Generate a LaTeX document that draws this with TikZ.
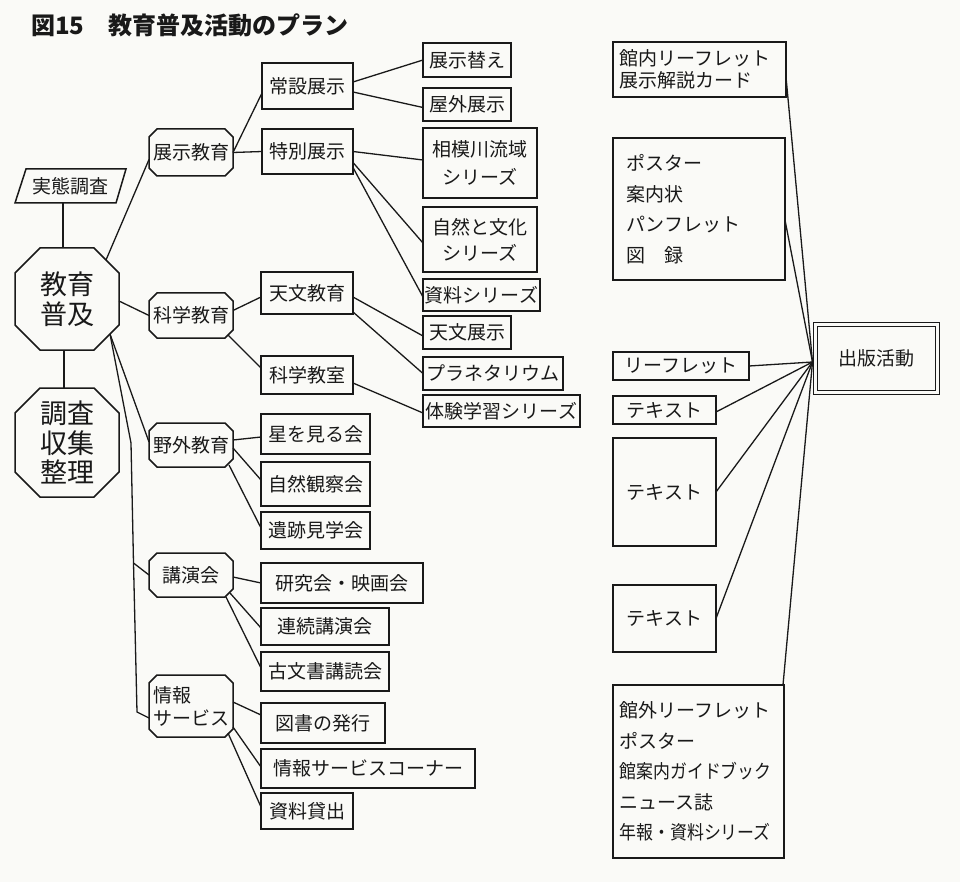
\documentclass[tikz,border=0pt]{standalone}
\usepackage{fontspec}
\newfontfamily\jp{Noto Sans CJK JP}
\usetikzlibrary{calc}
\definecolor{paper}{RGB}{250,250,247}
\definecolor{ink}{RGB}{25,25,25}
\newcommand\bxn[6][]{\node[box,#1,minimum width={#4-#2},minimum height={#5-#3}] (#6) at ({(#2+#4)/2},{(#3+#5)/2})}
\newcommand\octdraw[2]{\draw[boxline] ([xshift=#2]#1.north west) -- ([xshift=-#2]#1.north east) -- ([yshift=-#2]#1.north east) -- ([yshift=#2]#1.south east) -- ([xshift=-#2]#1.south east) -- ([xshift=#2]#1.south west) -- ([yshift=#2]#1.south west) -- ([yshift=-#2]#1.north west) -- cycle;}
\newcommand\narrowtxt[1]{\scalebox{0.89}[1]{#1}}
\begin{document}
\begin{tikzpicture}[x=1pt,y=-1pt,
  every node/.style={font=\jp\fontsize{19}{23}\selectfont, text=ink, inner sep=0pt, outer sep=0pt},
  box/.style={draw=ink, line width=1.5pt, rectangle},
  boxline/.style={draw=ink, line width=1.5pt, line join=miter},
  conn/.style={draw=ink, line width=1.3pt},
  big/.style={font=\jp\fontsize{27}{30}\selectfont, align=center},
  listtext/.style={font=\jp\fontsize{19}{30.5}\selectfont, align=left}]
\fill[paper] (0,0) rectangle (960,882);
\useasboundingbox (0,0) rectangle (960,882);

% title
\node[anchor=west, font=\jp\bfseries\fontsize{24}{28}\selectfont] (title) at (31,25) {図15\hspace{24pt}教育普及活動のプラン};

% left column
\bxn[draw=none]{15}{169}{126}{203}{jz}{実態調査};
\draw[boxline] ([xshift=11pt]jz.north west) -- (jz.north east) -- ([xshift=-10pt]jz.south east) -- (jz.south west) -- cycle;
\bxn[draw=none,big]{15}{248}{119}{350}{kyo}{教育\\普及};
\octdraw{kyo}{25pt}
\bxn[draw=none,font=\jp\fontsize{27}{29.5}\selectfont,align=center]{15}{388}{119}{497}{chosa}{調査\\収集\\整理};
\octdraw{chosa}{25pt}

% second column (octagons)
\bxn[draw=none]{149}{129}{233}{176}{tenji}{展示教育};
\octdraw{tenji}{8pt}
\bxn[draw=none]{149}{293}{233}{338}{kagaku}{科学教育};
\octdraw{kagaku}{8pt}
\bxn[draw=none]{149}{423}{233}{467}{yagai}{野外教育};
\octdraw{yagai}{8pt}
\bxn[draw=none]{149}{553}{233}{597}{koen}{講演会};
\octdraw{koen}{8pt}
\bxn[draw=none,align=left]{149}{675}{233}{737}{joho}{情報\\サービス};
\octdraw{joho}{8pt}

% third column
\bxn{262}{63}{353}{109}{josetsu}{常設展示};
\bxn{262}{129}{353}{174}{tokubetsu}{特別展示};
\bxn{261}{272}{353}{314}{tenmon}{天文教育};
\bxn{261}{356}{353}{394}{kyoshitsu}{科学教室};
\bxn{261}{414}{370}{454}{hoshi}{星を見る会};
\bxn{261}{462}{370}{506}{shizen}{自然観察会};
\bxn{261}{512}{370}{549}{iseki}{遺跡見学会};
\bxn{261}{563}{423}{603}{kenkyu}{研究会・映画会};
\bxn{261}{608}{389}{645}{renzoku}{連続講演会};
\bxn{261}{652}{389}{691}{komonjo}{古文書講読会};
\bxn{261}{703}{385}{743}{tosho}{図書の発行};
\bxn{261}{749}{475}{788}{johoc}{情報サービスコーナー};
\bxn{261}{793}{353}{829}{shiryo}{資料貸出};

% fourth column
\bxn{423}{43}{511}{77}{tenjikae}{展示替え};
\bxn{423}{88}{511}{121}{okugai}{屋外展示};
\bxn[align=center,font=\jp\fontsize{19}{28}\selectfont]{423}{128}{537}{198}{sagami}{相模川流域\\シリーズ};
\bxn[align=center,font=\jp\fontsize{19}{26}\selectfont]{423}{207}{537}{272}{bunka}{自然と文化\\シリーズ};
\bxn{423}{279}{540}{311}{shiryos}{資料シリーズ};
\bxn{423}{316}{511}{349}{tenmonten}{天文展示};
\bxn{423}{357}{563}{390}{planet}{プラネタリウム};
\bxn{423}{395}{580}{427}{taiken}{体験学習シリーズ};

% right column
\bxn[listtext,font=\jp\fontsize{19}{22}\selectfont,text width=160pt]{613}{42}{786}{97}{kannai}{館内リーフレット\\展示解説カード};
\bxn[listtext,text width=146pt]{613}{138}{785}{280}{poster}{ポスター\\案内状\\パンフレット\\図\hspace{1em}録};
\bxn{613}{352}{749}{380}{leaflet}{リーフレット};
\bxn{613}{396}{716}{424}{textA}{テキスト};
\bxn{613}{438}{716}{546}{textB}{テキスト};
\bxn{613}{585}{716}{652}{textC}{テキスト};
\bxn[listtext,text width=158pt]{613}{685}{784}{858}{kangai}{館外リーフレット\\ポスター\\\narrowtxt{館案内ガイドブック}\\ニュース誌\\\narrowtxt{年報・資料シリーズ}};
\bxn[double=paper,double distance=2.8pt,line width=1.3pt]{815.5}{324.5}{937.5}{392.5}{shuppan}{出版活動};
\coordinate (hub) at ([xshift=-3pt,yshift=-3.5pt]shuppan.west);

% connectors: left part
\draw[conn] ([xshift=-4pt]kyo.north) -- ([xshift=-4pt]kyo.north |- jz.south);
\draw[conn] ([xshift=-3pt]kyo.south) -- ([xshift=-3pt]chosa.north);
\coordinate (kyoUR) at ([xshift=-13pt,yshift=-12pt]kyo.north east);
\coordinate (kyoLR) at ([xshift=-9pt,yshift=16pt]kyo.south east);
\draw[conn] (kyoUR) -- ([yshift=-7pt]tenji.west);
\draw[conn] ([yshift=-2pt]kyo.east) -- (kagaku.west);
\draw[conn] (kyoLR) -- ([yshift=3pt]yagai.west);
\coordinate (b1) at (131,443);
\coordinate (b2) at (133.5,563);
\coordinate (b3) at (137,712);
\draw[conn] (kyoLR) -- (b1) -- (b2) -- (b3) -- ([yshift=-12pt]joho.west);
\draw[conn] (b2) -- (koen.west);

% 展示教育
\draw[conn] (tenji.east) -- ([yshift=-7pt]josetsu.west);
\draw[conn] (tenji.east) -- (tokubetsu.west);
\draw[conn] ([yshift=4pt]josetsu.east) -- (tenjikae.west);
\draw[conn] ([yshift=-6pt]josetsu.east) -- ([yshift=-3pt]okugai.west);
\draw[conn] (tokubetsu.east) -- ([yshift=3pt]sagami.west);
\draw[conn] ([yshift=-11pt]tokubetsu.east) -- ([yshift=-3.5pt]bunka.west);
\draw[conn] ([yshift=-16pt]tokubetsu.east) -- ([yshift=-2pt]shiryos.west);

% 科学教育
\draw[conn] ([yshift=5pt]kagaku.east) -- ([yshift=-4pt]tenmon.west);
\draw[conn] ([xshift=-5pt,yshift=3pt]kagaku.south east) -- ([yshift=7pt]kyoshitsu.west);
\draw[conn] ([yshift=-4pt]tenmon.east) -- ([yshift=-3.5pt]tenmonten.west);
\draw[conn] ([yshift=-19pt]tenmon.east) -- (planet.west);
\draw[conn] ([yshift=-8pt]kyoshitsu.east) -- ([yshift=-2pt]taiken.west);

% 野外教育
\draw[conn] ([yshift=5pt]yagai.east) -- ([yshift=-3pt]hoshi.west);
\draw[conn] ([yshift=-3pt]yagai.east) -- ([yshift=4pt]shizen.west);
\draw[conn] ([xshift=-4pt,yshift=2pt]yagai.south east) -- ([yshift=2.5pt]iseki.west);

% 講演会
\draw[conn] ([yshift=-2pt]koen.east) -- (kenkyu.west);
\draw[conn] ([xshift=-3pt,yshift=4pt]koen.south east) -- ([yshift=-1.5pt]renzoku.west);
\draw[conn] ([xshift=-7pt]koen.south east) -- ([yshift=3.5pt]komonjo.west);

% 情報サービス
\draw[conn] ([yshift=4pt]joho.east) -- ([yshift=8pt]tosho.west);
\draw[conn] ([yshift=-21pt]joho.east) -- ([yshift=1.5pt]johoc.west);
\draw[conn] ([xshift=-5pt,yshift=4pt]joho.south east) -- ([yshift=4pt]shiryo.west);

% 出版活動
\draw[conn] ([yshift=-7.5pt]kannai.east) -- (hub);
\draw[conn] ([yshift=-11pt]poster.east) -- (hub);
\draw[conn] (leaflet.east) -- (hub);
\draw[conn] ([yshift=-2pt]textA.east) -- (hub);
\draw[conn] (textB.east) -- (hub);
\draw[conn] (textC.east) -- (hub);
\draw[conn] ([xshift=-1pt]kangai.north east) -- (hub);
\end{tikzpicture}
\end{document}
